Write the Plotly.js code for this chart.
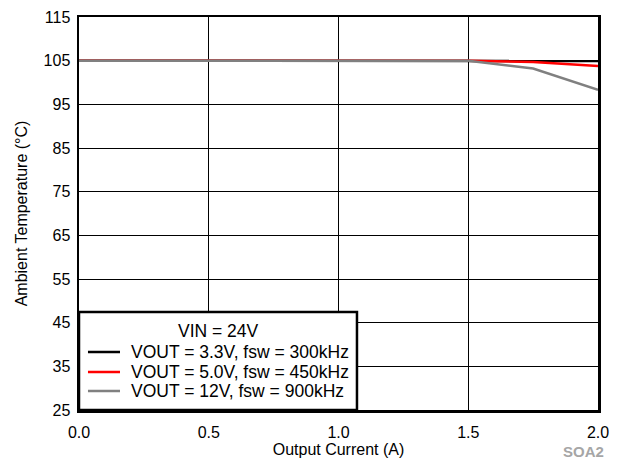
<!DOCTYPE html>
<html>
<head>
<meta charset="utf-8">
<script src="https://cdn.plot.ly/plotly-3.0.1.min.js"></script>
<style>html,body{margin:0;padding:0;background:#fff}#chart{width:622px;height:459px}</style>
</head>
<body>
<div id="chart"></div>
<script>
const currentA = [0.0, 0.5, 1.0, 1.5, 1.75, 2.0];
const temp33V = [105, 105, 105, 105, 105, 104.9];
const temp50V = [105, 105, 105, 105, 104.7, 103.8];
const temp12V = [105, 105, 105, 105, 103.2, 98.3];
const seriesNames = ["VOUT = 3.3V, fsw = 300kHz", "VOUT = 5.0V, fsw = 450kHz", "VOUT = 12V, fsw = 900kHz"];
const seriesColors = ["#000000", "#ff0000", "#808080"];
const legendTitle = "VIN = 24V";
const xTicks = [0.0, 0.5, 1.0, 1.5, 2.0];
const yTicks = [25, 35, 45, 55, 65, 75, 85, 95, 105, 115];

const font = {family: "Liberation Sans, Arial, sans-serif", color: "#000"};
const seriesY = [temp33V, temp50V, temp12V];
const traces = seriesY.map((ys, i) => ({
  x: currentA, y: ys, name: seriesNames[i], mode: "lines",
  line: {color: seriesColors[i], width: 2.5}, showlegend: false
}));

// Legend box (paper coordinates relative to plot area)
const legBox = {x0: 0, x1: 0.5356, y0: 0, y1: 0.2494};
const entryY = [0.1476, 0.0967, 0.0483];
const shapes = [{
  type: "rect", xref: "paper", yref: "paper", layer: "above",
  x0: legBox.x0, x1: legBox.x1, y0: legBox.y0, y1: legBox.y1,
  fillcolor: "#fff", line: {color: "#000", width: 2.5}
}];
const annotations = [{
  xref: "paper", yref: "paper", x: 0.268, y: 0.201, xanchor: "center", yanchor: "middle",
  text: legendTitle, showarrow: false, font: Object.assign({size: 17.5}, font)
}];
seriesNames.forEach((n, i) => {
  shapes.push({
    type: "line", xref: "paper", yref: "paper", layer: "above",
    x0: 0.0173, x1: 0.079, y0: entryY[i], y1: entryY[i],
    line: {color: seriesColors[i], width: 2.5}
  });
  annotations.push({
    xref: "paper", yref: "paper", x: 0.0963, y: entryY[i], xanchor: "left", yanchor: "middle",
    text: n, showarrow: false, font: Object.assign({size: 17.5}, font)
  });
});
annotations.push({
  xref: "paper", yref: "paper", x: 1.016, y: -0.105, xanchor: "right", yanchor: "middle",
  text: "<b>SOA2</b>", showarrow: false, font: Object.assign({}, font, {size: 15, color: "#a6a6a6"})
});

const layout = {
  width: 622, height: 459,
  margin: {l: 79, r: 24, t: 17, b: 49},
  paper_bgcolor: "#fff", plot_bgcolor: "#fff",
  font: Object.assign({size: 16}, font),
  showlegend: false,
  xaxis: {
    range: [0, 2], tickvals: xTicks, ticktext: xTicks.map(v => v.toFixed(1)),
    showgrid: true, gridcolor: "#000", gridwidth: 1,
    showline: true, linecolor: "#000", linewidth: 2.5, mirror: true,
    ticks: "", zeroline: false, ticklabelstandoff: 6,
    tickfont: Object.assign({size: 16}, font),
    title: {text: "Output Current (A)", font: Object.assign({size: 16}, font), standoff: 2}
  },
  yaxis: {
    range: [25, 115], tickvals: yTicks,
    showgrid: true, gridcolor: "#000", gridwidth: 1,
    showline: true, linecolor: "#000", linewidth: 2.5, mirror: true,
    ticks: "", zeroline: false, ticklabelstandoff: 3,
    tickfont: Object.assign({size: 16}, font),
    title: {text: "Ambient Temperature (°C)", font: Object.assign({size: 16}, font), standoff: 12}
  },
  shapes: shapes,
  annotations: annotations
};
Plotly.newPlot("chart", traces, layout, {displayModeBar: false, staticPlot: true});
</script>
</body>
</html>
